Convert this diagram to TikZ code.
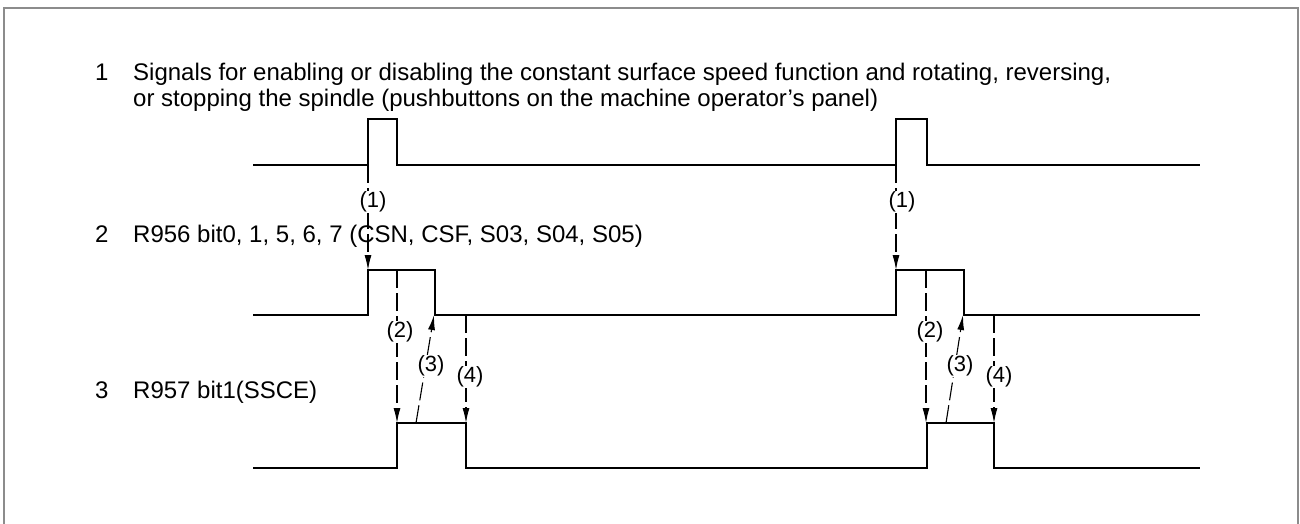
\documentclass[tikz,border=0pt]{standalone}
\usepackage{fontspec}
\setmainfont{Liberation Sans}
\usetikzlibrary{arrows.meta}
\begin{document}
\begin{tikzpicture}[x=1pt,y=-1pt,
  sig/.style={line width=2.6pt, line join=miter},
  dep/.style={line width=1.1pt, dash pattern=on 18pt off 5pt, -{Latex[length=15pt,width=7pt]}},
  lbl/.style={fill=white, inner sep=1pt, font=\fontsize{22}{26}\selectfont},
  txt/.style={anchor=base west, inner sep=0pt, font=\fontsize{24}{27}\selectfont},
  frame/.style={draw=black!45, line width=2pt}]
\useasboundingbox (0,0) rectangle (1300,523);
\draw[frame] (4,524) -- (4,8) -- (1298,8) -- (1298,524);

% texts
\node[txt] (n1) at (95,80) {1};
\node[txt] (t1a) at (133,80) {Signals for enabling or disabling the constant surface speed function and rotating, reversing,};
\node[txt] (t1b) at (133,106) {or stopping the spindle (pushbuttons on the machine operator’s panel)};
\node[txt] (n2) at (95,242) {2};
\node[txt] (t2) at (133,242) {R956 bit0, 1, 5, 6, 7 (CSN, CSF, S03, S04, S05)};
\node[txt] (n3) at (95,398) {3};
\node[txt] (t3) at (133,398) {R957 bit1(SSCE)};

% signal waveforms
\draw[sig] (253,165) -- (368,165) -- (368,119) -- (397,119) -- (397,165) -- (896,165) -- (896,119) -- (927,119) -- (927,165) -- (1200,165);
\draw[sig] (253,315) -- (368,315) -- (368,270) -- (435,270) -- (435,315) -- (896,315) -- (896,270) -- (964,270) -- (964,315) -- (1200,315);
\draw[sig] (253,468) -- (397,468) -- (397,423) -- (466,423) -- (466,468) -- (927,468) -- (927,423) -- (994,423) -- (994,468) -- (1200,468);

% coordinates for dependencies
\coordinate (a1s) at (368,165); \coordinate (a1e) at (368,270);
\coordinate (a2s) at (397,270); \coordinate (a2e) at (397,423);
\coordinate (a3s) at (416,423); \coordinate (a3e) at (434,315);
\coordinate (a4s) at (466,315); \coordinate (a4e) at (466,423);
\coordinate (b1s) at (896,165); \coordinate (b1e) at (896,270);
\coordinate (b2s) at (926,270); \coordinate (b2e) at (926,423);
\coordinate (b3s) at (946,423); \coordinate (b3e) at (963,315);
\coordinate (b4s) at (994,315); \coordinate (b4e) at (994,423);

\draw[dep] (a1s) -- (a1e);
\draw[dep] (a2s) -- (a2e);
\draw[dep] (a3s) -- (a3e);
\draw[dep] (a4s) -- (a4e);
\draw[dep] (b1s) -- (b1e);
\draw[dep] (b2s) -- (b2e);
\draw[dep] (b3s) -- (b3e);
\draw[dep] (b4s) -- (b4e);

% labels
\node[lbl] (l1a) at (373,202) {(1)};
\node[lbl] (l2a) at (400,332) {(2)};
\node[lbl] (l3a) at (431,366) {(3)};
\node[lbl] (l4a) at (470,377) {(4)};
\node[lbl] (l1b) at (902,202) {(1)};
\node[lbl] (l2b) at (930,332) {(2)};
\node[lbl] (l3b) at (960,366) {(3)};
\node[lbl] (l4b) at (999,377) {(4)};
\end{tikzpicture}
\end{document}
